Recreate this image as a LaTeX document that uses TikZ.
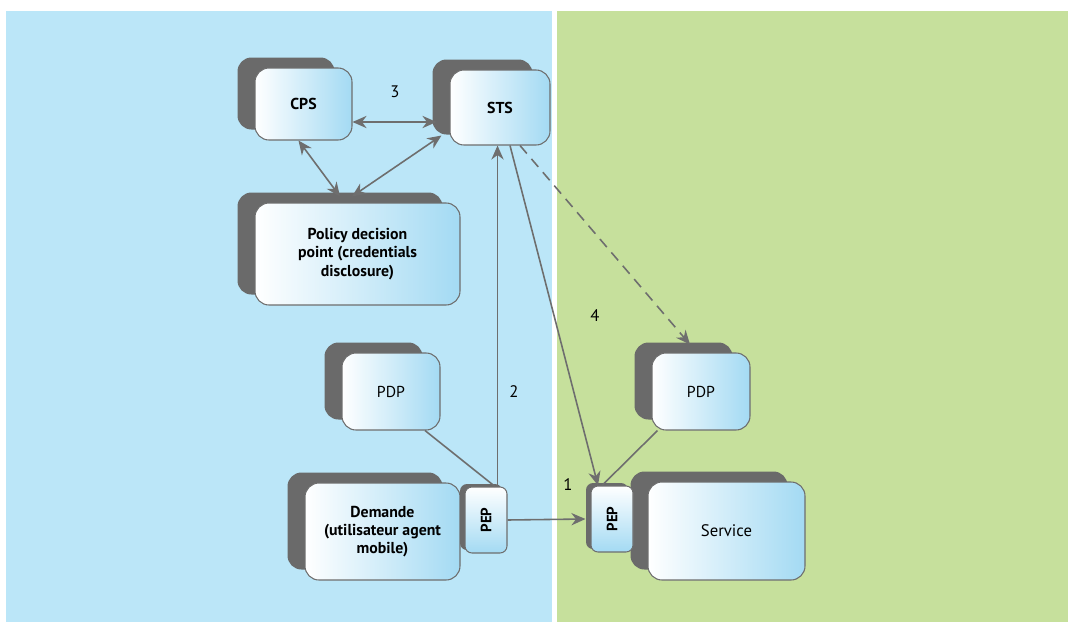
\documentclass[tikz,border=0pt]{standalone}
\usepackage{fontspec}
\setmainfont{PT Sans}
\usepackage{tikz}
\usetikzlibrary{arrows.meta,shadows,positioning}

\definecolor{leftpane}{HTML}{BBE6F8}
\definecolor{rightpane}{HTML}{C6E09C}
\definecolor{boxblue}{HTML}{A3DAF3}
\definecolor{shadowgray}{HTML}{6A6A6A}
\definecolor{linegray}{HTML}{6E6E6E}

\tikzset{
	box/.style={draw=linegray, line width=0.6pt, rounded corners=0.28cm, left color=white, right color=boxblue,
		general shadow={fill=shadowgray, shadow xshift=-0.35cm, shadow yshift=0.21cm},
		align=center, inner sep=2pt, font=\fontsize{9}{10.4}\selectfont\bfseries},
	pepbox/.style={draw=linegray, line width=0.6pt, rounded corners=0.14cm, top color=white, bottom color=boxblue,
		general shadow={fill=shadowgray, shadow xshift=-0.1cm, shadow yshift=0.06cm},
		minimum width=0.84cm, minimum height=1.32cm, inner sep=1pt},
	arr/.style={draw=linegray, line width=0.9pt},
	lbl/.style={font=\fontsize{9.5}{10}\selectfont},
	>={Stealth[length=8pt,width=7pt]}
}

\begin{document}
\begin{tikzpicture}
	\useasboundingbox (0, 0) rectangle (21.36, -12.44);
	\fill[white] (0, 0) rectangle (21.36, -12.44);
	\fill[leftpane] (0.12, -0.22) rectangle (11.04, -12.44);
	\fill[rightpane] (11.14, -0.22) rectangle (21.36, -12.44);

	\node[box, minimum width=1.94cm, minimum height=1.44cm] (cps) at (6.07, -2.08) {CPS};
	\node[box, minimum width=2.0cm, minimum height=1.5cm] (sts) at (10.0, -2.15) {STS};
	\node[box, minimum width=4.1cm, minimum height=2.04cm] (policy) at (7.15, -5.08) {Policy decision\\point (credentials\\disclosure)};
	\node[box, minimum width=1.96cm, minimum height=1.54cm, font=\fontsize{9}{10.4}\selectfont] (pdp1) at (7.82, -7.83) {PDP};
	\node[box, minimum width=1.96cm, minimum height=1.54cm, font=\fontsize{9}{10.4}\selectfont] (pdp2) at (14.02, -7.83) {PDP};
	\node[box, minimum width=3.1cm, minimum height=1.94cm] (demande) at (7.65, -10.63) {Demande\\(utilisateur agent\\mobile)};
	\node[box, minimum width=3.14cm, minimum height=1.96cm, font=\fontsize{9.5}{10.4}\selectfont] (service) at (14.53, -10.62) {Service};
	\node[pepbox] (pep1) at (9.72, -10.4) {\rotatebox{90}{\fontsize{8.5}{10}\selectfont\bfseries PEP}};
	\node[pepbox] (pep2) at (12.24, -10.38) {\rotatebox{90}{\fontsize{8.5}{10}\selectfont\bfseries PEP}};

	\node[lbl] (n3) at (7.9, -1.84) {3};
	\node[lbl] (n2) at (10.28, -7.84) {2};
	\node[lbl] (n4) at (11.9, -6.32) {4};
	\node[lbl] (n1) at (11.36, -9.7) {1};

	\draw[arr, <->] ([yshift=-0.36cm]cps.east) -- ([xshift=-0.26cm, yshift=-0.29cm]sts.west);
	\draw[arr, <->] ([xshift=-0.1cm]cps.south) -- ([xshift=-0.35cm, yshift=0.12cm]policy.north);
	\draw[arr, <->] ([xshift=-0.16cm, yshift=0.2cm]sts.south west) -- ([xshift=-0.11cm, yshift=0.12cm]policy.north);
	\draw[arr, ->] ([xshift=-0.2cm]pep1.north east) -- ([xshift=-0.2cm]pep1.north east |- sts.south);
	\draw[arr, ->] ([xshift=0.2cm]sts.south) -- ([xshift=-0.28cm]pep2.north);
	\draw[arr, ->, dash pattern=on 6pt off 4pt] ([xshift=0.4cm]sts.south) -- ([xshift=-0.22cm, yshift=0.16cm]pdp2.north);
	\draw[arr, ->] (pep1.east) -- ([xshift=-0.1cm]pep2.west);
	\draw[arr] ([xshift=0.68cm]pdp1.south) -- ([xshift=0.18cm]pep1.north);
	\draw[arr] ([xshift=0.12cm]pdp2.south west) -- ([xshift=-0.2cm]pep2.north);
\end{tikzpicture}
\end{document}
